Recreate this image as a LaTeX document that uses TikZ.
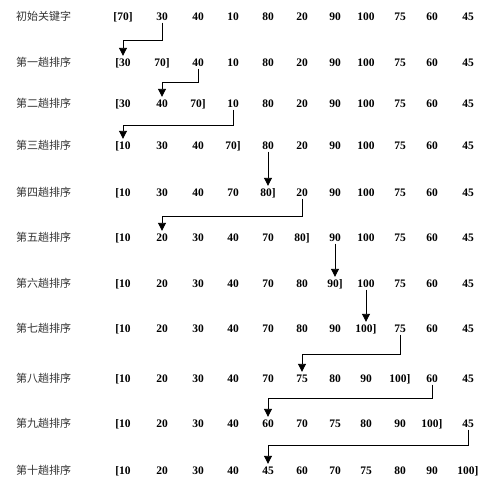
\documentclass[tikz,border=0pt]{standalone}
\usepackage{fontspec}
\setmainfont{Liberation Serif}
\newfontfamily\cjk{Noto Sans CJK SC}
\usetikzlibrary{arrows.meta}

\begin{document}
\begin{tikzpicture}[x=1pt,y=-1pt,
  key/.style={font=\bfseries\fontsize{11.5}{12}\selectfont, inner sep=2.5pt, text height=8pt, text depth=0pt},
  pass/.style={font=\cjk\fontsize{11}{12}\selectfont, anchor=west, inner sep=0pt, text=black!80},
  move/.style={line width=0.9pt, shorten >=-0.5pt, -{Triangle[width=8pt,length=8pt]}}]

\useasboundingbox (0,0) rectangle (487,491);

% rows: label, y, keys
\foreach \r/\y/\lab/\keys in {
  0/16/初始关键字/{[70],30,40,10,80,20,90,100,75,60,45},
  1/62/第一趟排序/{[30,70],40,10,80,20,90,100,75,60,45},
  2/103/第二趟排序/{[30,40,70],10,80,20,90,100,75,60,45},
  3/145/第三趟排序/{[10,30,40,70],80,20,90,100,75,60,45},
  4/192/第四趟排序/{[10,30,40,70,80],20,90,100,75,60,45},
  5/237/第五趟排序/{[10,20,30,40,70,80],90,100,75,60,45},
  6/283/第六趟排序/{[10,20,30,40,70,80,90],100,75,60,45},
  7/328/第七趟排序/{[10,20,30,40,70,80,90,100],75,60,45},
  8/378/第八趟排序/{[10,20,30,40,70,75,80,90,100],60,45},
  9/423/第九趟排序/{[10,20,30,40,60,70,75,80,90,100],45},
  10/470/第十趟排序/{[10,20,30,40,45,60,70,75,80,90,100]}} {
  \node[pass] (p\r) at (16,\y) {\lab};
  \foreach \k [count=\c] in \keys {
    \pgfmathsetmacro\x{{123,162,198,233,268,302,335,366,400,432,468}[\c-1]}
    \node[key] (r\r-\c) at (\x,\y) {\k};
  }
}

% insertions
\draw[move] (r0-2.south) -- ++(0,18) -| (r1-1.north);
\draw[move] (r1-3.south) -- ++(0,14) -| (r2-2.north);
\draw[move] (r2-4.south) -- ++(0,16) -| (r3-1.north);
\draw[move] (r3-5.south) -- (r4-5.north);
\draw[move] (r4-6.south) -- ++(0,18) -| (r5-2.north);
\draw[move] (r5-7.south) -- (r6-7.north);
\draw[move] (r6-8.south) -- (r7-8.north);
\draw[move] (r7-9.south) -- ++(0,20) -| (r8-6.north);
\draw[move] (r8-10.south) -- ++(0,14) -| (r9-5.north);
\draw[move] (r9-11.south) -- ++(0,16) -| (r10-5.north);
\end{tikzpicture}
\end{document}
